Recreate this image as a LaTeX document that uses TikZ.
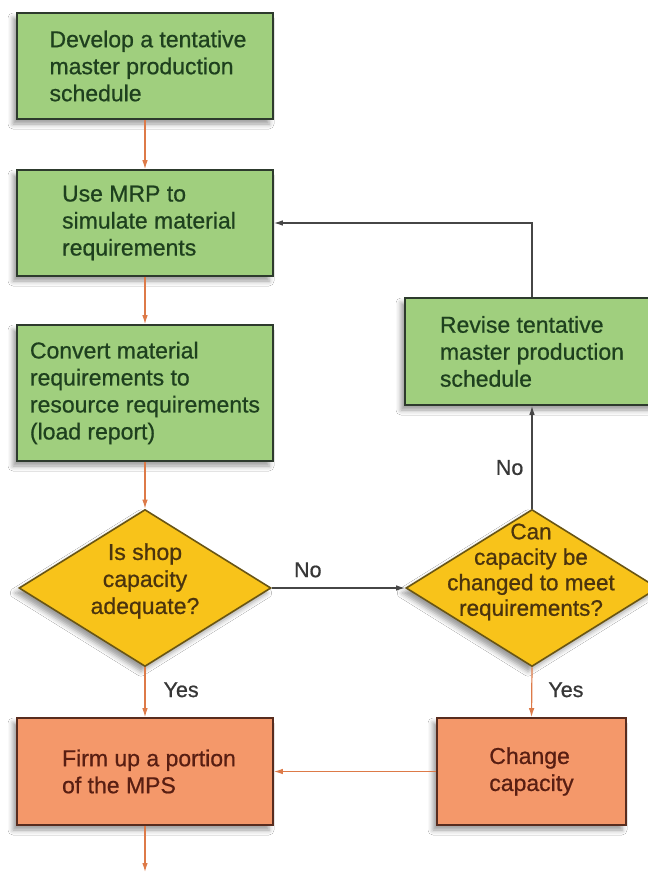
\documentclass[tikz,border=0pt]{standalone}
\usepackage{fontspec}
\setmainfont{Liberation Sans}
\newfontfamily\chartfont{Liberation Sans}[FakeBold=0.7]
\usetikzlibrary{shapes.geometric,arrows.meta,shadows.blur}

\definecolor{boxgreen}{RGB}{160,207,126}
\definecolor{greenedge}{RGB}{45,58,45}
\definecolor{greentext}{RGB}{30,64,30}
\definecolor{decisionfill}{RGB}{248,195,26}
\definecolor{decisionedge}{RGB}{105,85,20}
\definecolor{decisiontextc}{RGB}{75,52,14}
\definecolor{actionfill}{RGB}{244,152,106}
\definecolor{actionedge}{RGB}{88,44,30}
\definecolor{actiontext}{RGB}{88,30,18}
\definecolor{flowline}{RGB}{221,122,72}
\definecolor{loopline}{RGB}{70,70,70}
\definecolor{labelgrey}{RGB}{55,55,55}

\tikzset{
  every node/.style={font=\chartfont\fontsize{23}{27}\selectfont},
  softshadow/.style={blur shadow={shadow xshift=-4pt, shadow yshift=-5pt,
      shadow blur radius=5pt, shadow opacity=40}},
  greenbox/.style={rectangle, draw=greenedge, fill=boxgreen, text=greentext,
      line width=1.6pt, minimum width=256pt, minimum height=106pt,
      inner sep=0pt, align=left, softshadow},
  actionbox/.style={rectangle, draw=actionedge, fill=actionfill, text=actiontext,
      line width=1.6pt, minimum width=256pt, minimum height=107pt,
      inner sep=0pt, align=left, softshadow},
  decision/.style={diamond, draw=decisionedge, fill=decisionfill,
      line width=1.6pt, minimum width=252pt, minimum height=157pt,
      inner sep=0pt, softshadow},
  decisionlabel/.style={text=decisiontextc, align=center, inner sep=0pt},
  flowlabel/.style={text=labelgrey, inner sep=0pt,
      font=\chartfont\fontsize{21.5}{24}\selectfont},
  orangeflow/.style={draw=flowline, line width=1.2pt,
      -{Latex[length=9pt,width=5.5pt]}},
  greyflow/.style={draw=loopline, line width=1.3pt,
      -{Latex[length=9pt,width=5.5pt]}},
}

\begin{document}
\begin{tikzpicture}[x=1pt,y=-1pt]
  \path[use as bounding box] (0,0) rectangle (648,873);
  \fill[white] (0,0) rectangle (648,873);
  \clip (0,0) rectangle (648,873);

  % left column
  \node[greenbox] (develop) at (145,66)
    {\hspace*{6pt}Develop a tentative\\\hspace*{6pt}master production\\\hspace*{6pt}schedule};
  \node[greenbox] (simulate) at (145,223)
    {\hspace*{8pt}Use MRP to\\\hspace*{8pt}simulate material\\\hspace*{8pt}requirements};
  \node[greenbox, minimum height=136pt] (convert) at (145,393)
    {Convert material\\requirements to\\resource requirements\\(load report)};
  \node[decision] (shopcap) at (145,588) {};
  \node[decisionlabel] (shopcaptext) at (145,581)
    {Is shop\\capacity\\adequate?};
  \node[actionbox] (firm) at (145,771.5)
    {\hspace*{8pt}Firm up a portion\\\hspace*{8pt}of the MPS};

  % right column
  \node[greenbox, minimum width=254pt, minimum height=107pt] (revise) at (532,351.5)
    {Revise tentative\\master production\\schedule};
  \node[decision] (canchange) at (532,588) {};
  \node[decisionlabel, font=\chartfont\fontsize{22.5}{25.5}\selectfont] (canchangetext) at (531,572)
    {Can\\capacity be\\changed to meet\\requirements?};
  \node[actionbox, minimum width=189pt] (change) at (531.5,771.5)
    {Change\\capacity};

  \coordinate (release) at (145,872);

  % main flow
  \draw[orangeflow] (develop) -- (simulate);
  \draw[orangeflow] (simulate) -- (convert);
  \draw[orangeflow] (convert) -- (shopcap);
  \draw[orangeflow] (shopcap) -- node[flowlabel, pos=0.45, right=18pt] (yesleft) {Yes} (firm);
  \draw[orangeflow] (firm) -- (release);

  % capacity loop
  \draw[greyflow] (shopcap.east) -- node[flowlabel, pos=0.27, above=10pt] (noright) {No} (canchange.west);
  \draw[greyflow] (canchange.north) -- node[flowlabel, pos=0.4, left=8pt] (noup) {No} (revise.south);
  \draw[greyflow] (revise.north) |- (simulate.east);
  \draw[orangeflow] (canchange.south) -- node[flowlabel, pos=0.45, right=16pt] (yesright) {Yes} (change.north);
  \draw[orangeflow] (change.west) -- (firm.east);
\end{tikzpicture}
\end{document}
